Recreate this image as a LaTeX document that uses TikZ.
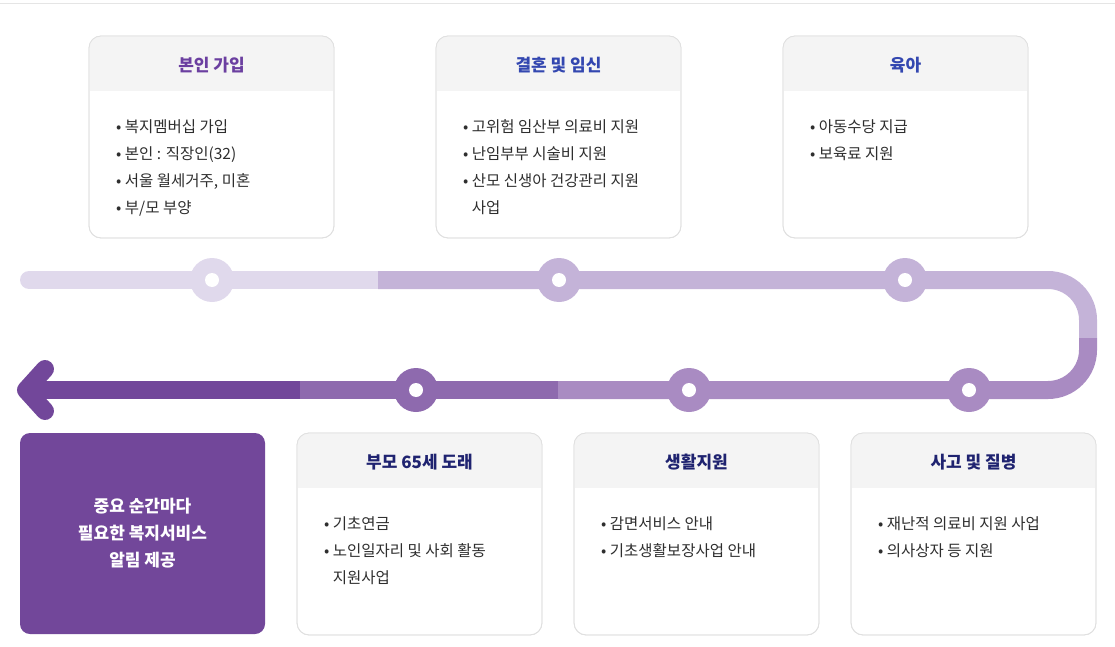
\documentclass[tikz,border=0pt]{standalone}
\usepackage{fontspec}
\setmainfont{Noto Sans CJK KR}
\begin{document}
\begin{tikzpicture}[x=1pt,y=-1pt,
  cardbox/.style={draw=black!12,line width=0.8pt,rounded corners=12pt,fill=white},
  ttl/.style={font=\fontsize{17}{20}\selectfont\bfseries},
  body/.style={font=\fontsize{15.5}{27}\selectfont,text=black!82,align=left,anchor=north west,inner sep=0},
  seg/.style={line width=18pt},
  dotc/.style={circle,minimum size=44pt,inner sep=0},
  hole/.style={circle,fill=white,minimum size=14pt,inner sep=0}]
\definecolor{cA}{HTML}{E0D9EC}\definecolor{cB}{HTML}{C4B3D8}
\definecolor{cC}{HTML}{A98BC2}\definecolor{cD}{HTML}{8E6AAE}
\definecolor{cE}{HTML}{72479A}\definecolor{hd}{HTML}{F4F4F4}
\definecolor{tp}{HTML}{6B3FA0}\definecolor{tb}{HTML}{3347B0}\definecolor{tn}{HTML}{1F2370}
\useasboundingbox (0,0) rectangle (1115,647);
\draw[black!10,line width=1pt] (0,4) -- (1115,4);
% path
\draw[seg,cA,line cap=round] (29,280) -- (378,280);
\draw[seg,cB,rounded corners=40pt] (378,280) -- (1088,280) -- (1088,338);
\draw[seg,cC,rounded corners=40pt] (1088,338) -- (1088,390) -- (558,390);
\draw[seg,cD] (558,390) -- (300,390);
\draw[seg,cE] (300,390) -- (28,390);
\draw[seg,cE,line cap=round,line join=round] (45,369) -- (26,390) -- (45,411);
% dots
\foreach \n/\x/\y/\c in {d1/212/280/cA,d2/559/280/cB,d3/905/280/cB,d4/416/390/cD,d5/689/390/cC,d6/969/390/cC}{
  \node[dotc,fill=\c] (\n) at (\x,\y) {};
  \node[hole] (\n h) at (\x,\y) {};}
% cards
\foreach \n/\x/\y/\t/\c in {c1/89/36/본인 가입/tp,c2/436/36/결혼 및 임신/tb,c3/783/36/육아/tb,c4/297/433/부모 65세 도래/tn,c5/574/433/생활지원/tn,c6/851/433/사고 및 질병/tn}{
  \draw[cardbox] (\x,\y) rectangle ++(245,202);
  \begin{scope}
  \clip[rounded corners=12pt] (\x,\y) rectangle ++(245,202);
  \fill[hd] (\x,\y) rectangle ++(245,55);
  \end{scope}
  \draw[cardbox,fill=none] (\x,\y) rectangle ++(245,202);
  \node[ttl,text=\c] (\n t) at (\x+122.5,\y+29) {\t};
  \coordinate (\n b) at (\x+27,\y+83);}
\node[body] (b1) at (c1b) {• 복지멤버십 가입\\• 본인 : 직장인(32)\\• 서울 월세거주, 미혼\\• 부/모 부양};
\node[body] (b2) at (c2b) {• 고위험 임산부 의료비 지원\\• 난임부부 시술비 지원\\• 산모 신생아 건강관리 지원\\\phantom{• }사업};
\node[body] (b3) at (c3b) {• 아동수당 지급\\• 보육료 지원};
\node[body] (b4) at (c4b) {• 기초연금\\• 노인일자리 및 사회 활동\\\phantom{• }지원사업};
\node[body] (b5) at (c5b) {• 감면서비스 안내\\• 기초생활보장사업 안내};
\node[body] (b6) at (c6b) {• 재난적 의료비 지원 사업\\• 의사상자 등 지원};
% purple box
\fill[cE,rounded corners=10pt] (20,433) rectangle (265,634);
\node[font=\fontsize{17}{27}\selectfont\bfseries,text=white,align=center] (msg) at (142.5,533) {중요 순간마다\\필요한 복지서비스\\알림 제공};
\end{tikzpicture}
\end{document}
